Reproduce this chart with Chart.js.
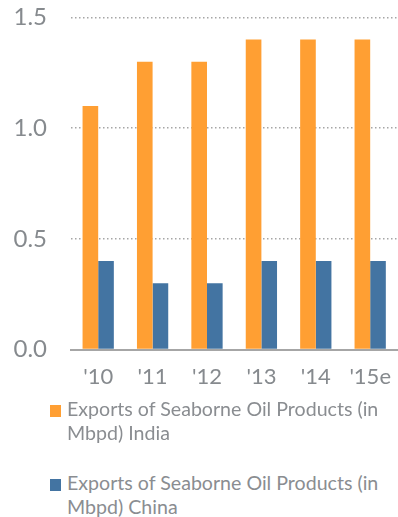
<!DOCTYPE html>
<html lang="en">
<head>
    <meta charset="UTF-8">
    <title>Exports of Seaborne Oil Products</title>
    <script src="https://cdn.jsdelivr.net/npm/chart.js"></script>
    <style>
        body { margin: 0; padding: 0; background: #fff; overflow: hidden; width: 398px; height: 517px; }
        .chart-box { position: relative; width: 405px; height: 425px; margin-top: -21px; }
        #legend { margin: -7px 0 0 0; padding: 0; list-style: none; font-family: Lato, "Open Sans", sans-serif; font-size: 19.6px; color: #8a8d91; }
        #legend li { position: relative; padding-left: 67px; width: 320px; line-height: 24px; margin-bottom: 26px; }
        #legend li span { position: absolute; left: 50px; top: 8px; width: 11px; height: 12px; }
    </style>
</head>
<body>
    <div class="chart-box"><canvas id="oilChart"></canvas></div>
    <ul id="legend"></ul>
    <script>
    const years = ["'10", "'11", "'12", "'13", "'14", "'15e"];
    const india = [1.1, 1.3, 1.3, 1.4, 1.4, 1.4];
    const china = [0.4, 0.3, 0.3, 0.4, 0.4, 0.4];
    const yTicks = [0, 0.5, 1.0, 1.5];

    const grey = "#868a8e";

    const chart = new Chart(document.getElementById("oilChart"), {
        type: "bar",
        data: {
            labels: years,
            datasets: [
                { label: "Exports of Seaborne Oil Products (in Mbpd) India", data: india, backgroundColor: "#ff9f33" },
                { label: "Exports of Seaborne Oil Products (in Mbpd) China", data: china, backgroundColor: "#4374a2" }
            ]
        },
        options: {
            responsive: true,
            maintainAspectRatio: false,
            animation: false,
            layout: { padding: { top: 0, left: 13, right: 0, bottom: 0 } },
            datasets: { bar: { categoryPercentage: 0.575, barPercentage: 1 } },
            plugins: { legend: { display: false }, tooltip: { enabled: false } },
            scales: {
                x: {
                    grid: { display: false, drawTicks: false },
                    border: { color: "#a6a6a6", width: 2 },
                    ticks: { color: grey, font: { family: "Lato", size: 22 }, padding: 14, maxRotation: 0 }
                },
                y: {
                    min: 0,
                    max: 1.5,
                    afterBuildTicks: axis => { axis.ticks = yTicks.map(v => ({ value: v })); },
                    afterFit: axis => { axis.width = 58; },
                    grid: {
                        drawTicks: false,
                        color: ctx => ctx.tick && ctx.tick.value === 0 ? "rgba(0,0,0,0)" : "#a6a6a6",
                        lineWidth: 1.5
                    },
                    // dotted gridlines
                    border: { display: false, dash: [1.5, 2.5] },
                    ticks: {
                        color: grey,
                        font: { family: "Lato", size: 24 },
                        padding: 24,
                        callback: v => Number(v).toFixed(1)
                    }
                }
            }
        }
    });

    // legend under the chart, wrapped over two lines per entry
    const legend = document.getElementById("legend");
    chart.data.datasets.forEach(ds => {
        const li = document.createElement("li");
        const sw = document.createElement("span");
        sw.style.background = ds.backgroundColor;
        li.appendChild(sw);
        li.appendChild(document.createTextNode(ds.label));
        legend.appendChild(li);
    });
    </script>
</body>
</html>
